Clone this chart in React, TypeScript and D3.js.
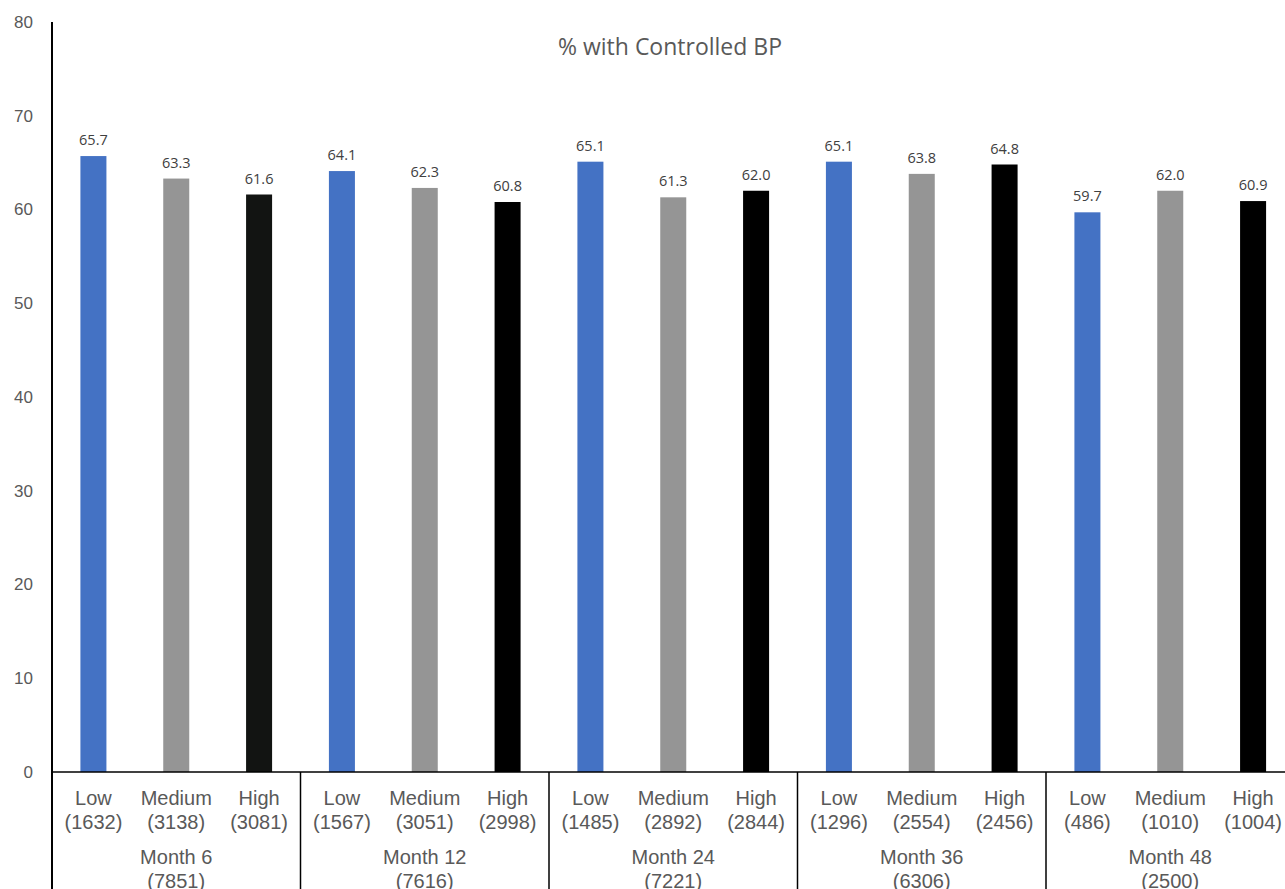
import React from "react";
import * as d3 from "d3";

const months = ["Month 6", "Month 12", "Month 24", "Month 36", "Month 48"];
const monthN = ["7851", "7616", "7221", "6306", "2500"];
const levels = ["Low", "Medium", "High"];
const lowVals = [65.7, 64.1, 65.1, 65.1, 59.7];
const medVals = [63.3, 62.3, 61.3, 63.8, 62.0];
const highVals = [61.6, 60.8, 62.0, 64.8, 60.9];
const lowN = ["1632", "1567", "1485", "1296", "486"];
const medN = ["3138", "3051", "2892", "2554", "1010"];
const highN = ["3081", "2998", "2844", "2456", "1004"];
const yTicks = [0, 10, 20, 30, 40, 50, 60, 70, 80];
const colors = ["#4472C4", "#959595", "#000000"];

const W = 1285;
const H = 889;
const left = 52;
const groupW = 248.5;

export default function App() {
  const x0 = d3.scaleBand<string>().domain(months).range([left, left + groupW * months.length]);
  const x1 = d3
    .scaleBand<string>()
    .domain(levels)
    .range([0, x0.bandwidth()])
    .paddingInner(0.686)
    .paddingOuter(0.343);
  const y = d3.scaleLinear().domain([0, 80]).range([772, 22]);
  const series = [lowVals, medVals, highVals];
  const ns = [lowN, medN, highN];
  const font = "'Liberation Sans', Arial, sans-serif";

  return (
    <svg
      width={W}
      height={H}
      style={{ position: "absolute", left: 0, top: 0, background: "#fff" }}
      fontFamily={font}
    >
      <rect x={0} y={0} width={W} height={H} fill="#fff" />
      <text x={670} y={55} textAnchor="middle" fontSize={23} fill="#595959" fontFamily="'Open Sans', 'Noto Sans', sans-serif">
        % with Controlled BP
      </text>
      {yTicks.map((t) => (
        <text key={t} x={33} y={y(t)} dy="0.35em" textAnchor="end" fontSize={17} fill="#595959">
          {t}
        </text>
      ))}
      {months.map((m, gi) => (
        <g key={m}>
          {levels.map((lv, li) => {
            const v = series[li][gi];
            const bx = (x0(m) as number) + (x1(lv) as number);
            const cx = bx + x1.bandwidth() / 2;
            return (
              <g key={lv}>
                <rect
                  x={bx}
                  y={y(v)}
                  width={x1.bandwidth()}
                  height={y(0) - y(v)}
                  fill={li === 2 && gi === 0 ? "#121412" : colors[li]}
                />
                <text
                  x={cx}
                  y={y(v) - 11}
                  textAnchor="middle"
                  fontSize={14.5}
                  fill="#404040"
                  fontFamily="'Open Sans', 'Noto Sans', sans-serif"
                >
                  {v.toFixed(1)}
                </text>
                <text x={cx} y={805} textAnchor="middle" fontSize={20} fill="#595959">
                  {lv}
                </text>
                <text x={cx} y={829} textAnchor="middle" fontSize={20} fill="#595959">
                  ({ns[li][gi]})
                </text>
              </g>
            );
          })}
          <text x={(x0(m) as number) + x0.bandwidth() / 2} y={864} textAnchor="middle" fontSize={20} fill="#595959">
            {m}
          </text>
          <text x={(x0(m) as number) + x0.bandwidth() / 2} y={888} textAnchor="middle" fontSize={20} fill="#595959">
            ({monthN[gi]})
          </text>
        </g>
      ))}
      {months.map((m) => (
        <line key={"sep" + m} x1={x0(m)} x2={x0(m)} y1={772} y2={H} stroke="#000" strokeWidth={1.5} />
      ))}
      <line x1={left} x2={left} y1={22} y2={H} stroke="#000" strokeWidth={2} />
      <line x1={left} x2={W} y1={772} y2={772} stroke="#000" strokeWidth={1.5} />
    </svg>
  );
}
